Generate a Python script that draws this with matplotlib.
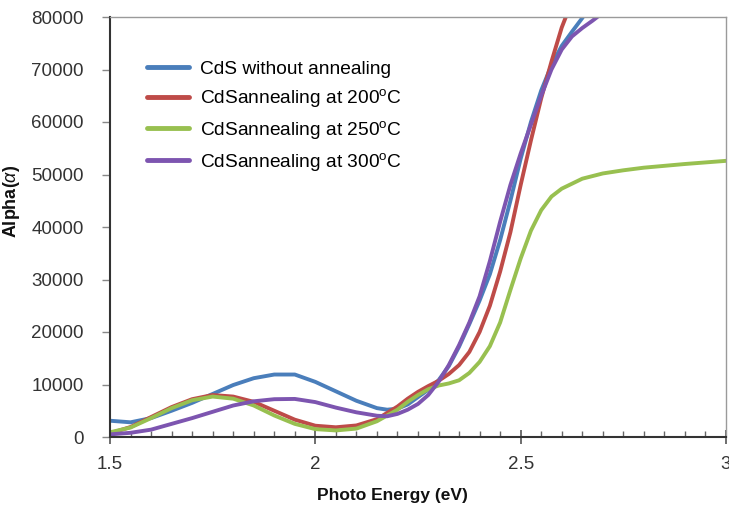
import matplotlib
matplotlib.use("Agg")
import matplotlib.pyplot as plt
from matplotlib.ticker import MultipleLocator

plt.rcParams['font.family'] = ['Liberation Sans', 'DejaVu Sans']
plt.rcParams['mathtext.fontset'] = 'custom'
plt.rcParams['mathtext.rm'] = 'Liberation Sans'
plt.rcParams['mathtext.it'] = 'Liberation Sans:italic'

# ---- data ----
x_blue = [1.50, 1.55, 1.60, 1.65, 1.70, 1.75, 1.80, 1.85, 1.90, 1.95, 2.00, 2.05, 2.10,
          2.15, 2.175, 2.20, 2.225, 2.25, 2.275, 2.30, 2.325, 2.35, 2.375, 2.40, 2.425,
          2.45, 2.475, 2.50, 2.525, 2.55, 2.575, 2.60, 2.625, 2.65, 2.66]
y_blue = [3100, 2800, 3600, 5000, 6500, 8200, 9900, 11200, 11900, 11900, 10500, 8700, 6900,
          5500, 5200, 5400, 6200, 7600, 9000, 10800, 13500, 17200, 21500, 26000, 31000,
          37500, 45000, 53000, 60000, 66000, 70800, 74500, 77200, 79800, 81000]

x_red = [1.50, 1.55, 1.60, 1.65, 1.70, 1.75, 1.80, 1.85, 1.90, 1.95, 2.00, 2.05, 2.10,
         2.15, 2.20, 2.225, 2.25, 2.275, 2.30, 2.325, 2.35, 2.375, 2.40, 2.425, 2.45,
         2.475, 2.50, 2.525, 2.55, 2.575, 2.60, 2.62]
y_red = [700, 1900, 3800, 5700, 7200, 8000, 7700, 6700, 5000, 3300, 2150, 1850, 2200,
         3400, 5800, 7300, 8600, 9700, 10700, 12000, 13700, 16200, 20000, 25000, 31500,
         39000, 48000, 56500, 64500, 71500, 78000, 82000]

x_green = [1.50, 1.55, 1.60, 1.65, 1.70, 1.75, 1.80, 1.85, 1.90, 1.95, 2.00, 2.05, 2.10,
           2.15, 2.20, 2.225, 2.25, 2.275, 2.30, 2.325, 2.35, 2.375, 2.40, 2.425, 2.45,
           2.475, 2.50, 2.525, 2.55, 2.575, 2.60, 2.65, 2.70, 2.75, 2.80, 2.90, 3.00]
y_green = [900, 1800, 3600, 5500, 7000, 7700, 7300, 6000, 4100, 2500, 1500, 1250, 1600,
           3000, 5200, 6700, 8000, 9100, 9800, 10200, 10800, 12200, 14300, 17300, 21800,
           28000, 34000, 39300, 43200, 45800, 47300, 49200, 50200, 50800, 51300, 52000, 52600]

x_purple = [1.50, 1.55, 1.60, 1.65, 1.70, 1.75, 1.80, 1.85, 1.90, 1.95, 2.00, 2.05, 2.10,
            2.15, 2.175, 2.20, 2.225, 2.25, 2.275, 2.30, 2.325, 2.35, 2.375, 2.40, 2.425,
            2.45, 2.475, 2.50, 2.525, 2.55, 2.575, 2.60, 2.625, 2.65, 2.675, 2.70, 2.71]
y_purple = [500, 800, 1400, 2500, 3600, 4800, 6000, 6800, 7200, 7250, 6650, 5600, 4700,
            4050, 3950, 4400, 5200, 6300, 8000, 10500, 13700, 17500, 21800, 26800, 33500,
            41000, 48000, 54000, 59500, 65000, 70000, 73800, 76300, 77900, 79300, 80800, 81500]

labels = ['CdS without annealing',
          r'CdSannealing at 200$^\mathregular{o}$C',
          r'CdSannealing at 250$^\mathregular{o}$C',
          r'CdSannealing at 300$^\mathregular{o}$C']
colors = ['#4a7ebb', '#be4b48', '#98c050', '#7d55b0']

x_ticks = [1.5, 2, 2.5, 3]
x_ticklabels = ['1.5', '2', '2.5', '3']
y_ticks = [0, 10000, 20000, 30000, 40000, 50000, 60000, 70000, 80000]

# ---- figure ----
fig = plt.figure(figsize=(7.29, 5.15), dpi=100)
ax = fig.add_axes([110/729, 78/515, 616/729, 420/515])

series = [(x_blue, y_blue), (x_red, y_red), (x_green, y_green), (x_purple, y_purple)]
for (xs, ys), lab, c in zip(series, labels, colors):
    ax.plot(xs, ys, color=c, lw=2.8, label=lab, solid_capstyle='round',
            solid_joinstyle='round')

ax.set_xlim(1.5, 3)
ax.set_ylim(0, 80000)
ax.set_xticks(x_ticks)
ax.set_xticklabels(x_ticklabels)
ax.set_yticks(y_ticks)
ax.set_yticklabels([str(v) for v in y_ticks])
ax.xaxis.set_minor_locator(MultipleLocator(0.05))

ax.tick_params(axis='x', which='major', direction='inout', length=10, width=1.2,
               color='#555555', labelsize=13.5, labelcolor='#333333', pad=9)
ax.tick_params(axis='x', which='minor', direction='in', length=4, width=1,
               color='#666666')
ax.tick_params(axis='y', which='major', direction='out', length=6, width=1,
               color='#888888', labelsize=13.5, labelcolor='#333333', pad=13)

for side in ['left', 'bottom']:
    ax.spines[side].set_color('#333333')
    ax.spines[side].set_linewidth(1.5)
for side in ['top', 'right']:
    ax.spines[side].set_color('#9a9a9a')
    ax.spines[side].set_linewidth(1.0)

ax.set_xlabel('Photo Energy (eV)', fontsize=12.5, fontweight='bold', color='#111111')
ax.xaxis.set_label_coords(0.458, -0.122)
ax.set_ylabel(r'Alpha($\alpha$)', fontsize=13, fontweight='bold', color='#111111')
ax.yaxis.set_label_coords(-0.143, 0.56)

leg = ax.legend(loc='upper left', bbox_to_anchor=(0.047, 0.915), frameon=False,
                fontsize=13.8, handlelength=2.2, handletextpad=0.6,
                labelspacing=0.5, borderaxespad=0)
for line in leg.get_lines():
    line.set_linewidth(3.5)

fig.savefig('out.png', dpi=100)
